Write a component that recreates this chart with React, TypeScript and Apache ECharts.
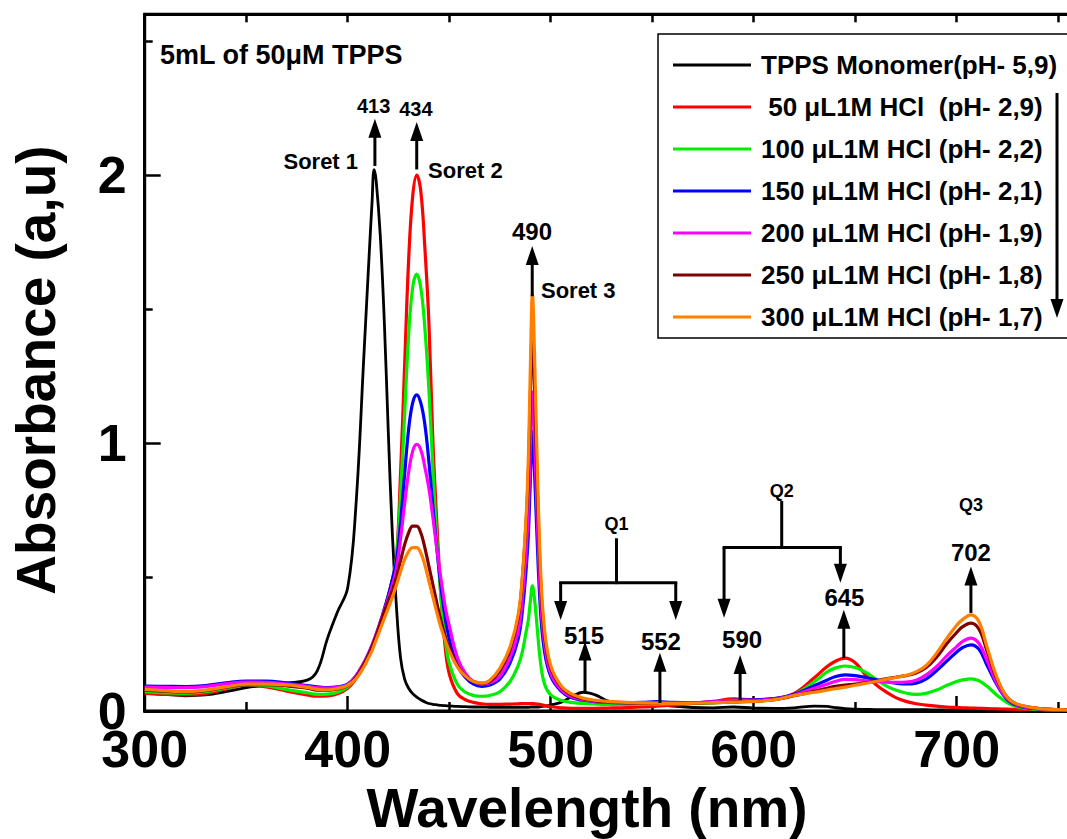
import React, { useEffect, useRef } from 'react';
import * as echarts from 'echarts';

const FONT = '"Liberation Sans", Arial, Helvetica, sans-serif';

// Wavelength grid (nm)
const W = [
  300, 310, 320, 330, 340, 350, 360, 370, 380, 385, 390, 395, 400,
  404, 408, 410, 412, 413, 414, 416, 418, 420,
  422, 424, 426, 428, 430, 432, 434, 436, 438, 440,
  442, 444, 446, 448, 450, 454, 458, 462, 466, 470,
  475, 480, 484, 486, 488, 489, 490, 491, 492, 493,
  495, 497, 500, 505, 510, 516, 522, 528, 535, 545,
  552, 560, 570, 580, 590, 600, 610, 620, 630, 636,
  640, 645, 650, 655, 660, 665, 670, 675, 680, 685,
  690, 695, 700, 703, 707, 711, 715, 720, 725, 730,
  740, 750, 770, 800,
];

const monomer = [
  0.068, 0.062, 0.057, 0.06, 0.072, 0.087, 0.096, 0.105, 0.115, 0.15, 0.27, 0.37, 0.46,
  0.76, 1.33, 1.62, 1.9, 2.02, 1.98, 1.78, 1.46, 1.04,
  0.66, 0.39, 0.2, 0.12, 0.085, 0.065, 0.052, 0.042, 0.034, 0.028,
  0.025, 0.023, 0.021, 0.02, 0.019, 0.017, 0.016, 0.015, 0.015, 0.014,
  0.014, 0.014, 0.014, 0.014, 0.014, 0.014, 0.015, 0.015, 0.015, 0.015,
  0.016, 0.018, 0.022, 0.032, 0.052, 0.07, 0.06, 0.038, 0.024, 0.02,
  0.026, 0.018, 0.013, 0.012, 0.015, 0.011, 0.01, 0.012, 0.018, 0.017,
  0.013, 0.009, 0.007, 0.006, 0.005, 0.005, 0.005, 0.005, 0.005, 0.005,
  0.004, 0.004, 0.004, 0.004, 0.004, 0.004, 0.004, 0.004, 0.004, 0.004,
  0.004, 0.003, 0.003, 0.003,
];

const hcl50 = [
  0.066, 0.062, 0.06, 0.066, 0.082, 0.097, 0.09, 0.074, 0.06, 0.055, 0.056, 0.064, 0.085,
  0.12, 0.17, 0.2, 0.235, 0.255, 0.275, 0.32, 0.37, 0.43,
  0.49, 0.57, 0.88, 1.28, 1.68, 1.92, 2.0, 1.94, 1.73, 1.45,
  1.0, 0.69, 0.42, 0.24, 0.14, 0.065, 0.042, 0.032, 0.027, 0.025,
  0.025, 0.026, 0.027, 0.028, 0.028, 0.028, 0.028, 0.028, 0.027, 0.026,
  0.024, 0.02, 0.016, 0.012, 0.01, 0.01, 0.01, 0.011, 0.012, 0.015,
  0.018, 0.022, 0.028, 0.036, 0.045, 0.042, 0.046, 0.066, 0.125, 0.165,
  0.185, 0.197, 0.18, 0.135, 0.1, 0.072, 0.05, 0.036, 0.027, 0.022,
  0.018, 0.015, 0.013, 0.012, 0.011, 0.01, 0.009, 0.008, 0.007, 0.006,
  0.005, 0.004, 0.003, 0.003,
];

const hcl100 = [
  0.072, 0.068, 0.066, 0.072, 0.085, 0.098, 0.094, 0.08, 0.068, 0.062, 0.063, 0.07, 0.09,
  0.125, 0.175, 0.205, 0.24, 0.26, 0.28, 0.325, 0.375, 0.43,
  0.49, 0.57, 0.8, 1.1, 1.4, 1.58, 1.63, 1.58, 1.43, 1.2,
  0.9, 0.63, 0.42, 0.27, 0.18, 0.1, 0.07, 0.058, 0.055, 0.058,
  0.072, 0.11, 0.17, 0.22, 0.3, 0.34, 0.41, 0.467, 0.42, 0.34,
  0.18, 0.1, 0.06, 0.04, 0.032, 0.028, 0.026, 0.025, 0.025, 0.025,
  0.026, 0.027, 0.028, 0.03, 0.034, 0.036, 0.042, 0.062, 0.11, 0.145,
  0.16, 0.168, 0.162, 0.145, 0.12, 0.095, 0.078, 0.067, 0.062, 0.066,
  0.078, 0.095, 0.11, 0.116, 0.12, 0.113, 0.092, 0.058, 0.03, 0.015,
  0.006, 0.004, 0.003, 0.002,
];

const hcl150 = [
  0.093, 0.092, 0.091, 0.095, 0.105, 0.112, 0.112, 0.104, 0.095, 0.09, 0.087, 0.09, 0.1,
  0.13, 0.18, 0.21, 0.245, 0.265, 0.285, 0.33, 0.38, 0.43,
  0.49, 0.56, 0.7, 0.88, 1.05, 1.15, 1.18, 1.15, 1.07, 0.93,
  0.76, 0.6, 0.46, 0.35, 0.27, 0.17, 0.125, 0.1, 0.092, 0.097,
  0.12, 0.18, 0.27, 0.37, 0.54, 0.66, 0.87, 1.045, 0.9, 0.7,
  0.37, 0.22, 0.13, 0.075, 0.05, 0.04, 0.035, 0.032, 0.031, 0.032,
  0.035, 0.032, 0.031, 0.034, 0.04, 0.042, 0.046, 0.062, 0.095, 0.115,
  0.128, 0.135, 0.132, 0.125, 0.117, 0.11, 0.104, 0.101, 0.104, 0.12,
  0.15, 0.185, 0.22, 0.237, 0.247, 0.23, 0.17, 0.095, 0.042, 0.02,
  0.008, 0.005, 0.003, 0.002,
];

const hcl200 = [
  0.089, 0.088, 0.087, 0.091, 0.101, 0.108, 0.107, 0.1, 0.092, 0.087, 0.085, 0.088, 0.098,
  0.13, 0.18, 0.21, 0.245, 0.265, 0.285, 0.33, 0.375, 0.42,
  0.47, 0.53, 0.64, 0.77, 0.89, 0.97, 0.995, 0.975, 0.91, 0.83,
  0.72, 0.6, 0.49, 0.39, 0.32, 0.2, 0.14, 0.11, 0.1, 0.105,
  0.13, 0.2, 0.3, 0.42, 0.61, 0.75, 1.0, 1.19, 1.03, 0.8,
  0.42, 0.25, 0.14, 0.08, 0.054, 0.042, 0.036, 0.033, 0.031, 0.03,
  0.03, 0.03, 0.031, 0.034, 0.04, 0.04, 0.044, 0.06, 0.085, 0.1,
  0.11, 0.118, 0.117, 0.113, 0.11, 0.108, 0.107, 0.108, 0.115, 0.135,
  0.165, 0.205, 0.24, 0.26, 0.272, 0.252, 0.187, 0.1, 0.045, 0.022,
  0.009, 0.005, 0.003, 0.002,
];

const hcl250 = [
  0.078, 0.074, 0.07, 0.076, 0.088, 0.098, 0.098, 0.094, 0.085, 0.078, 0.077, 0.082, 0.095,
  0.125, 0.175, 0.205, 0.24, 0.26, 0.28, 0.325, 0.37, 0.41,
  0.45, 0.5, 0.56, 0.62, 0.665, 0.69, 0.69, 0.665, 0.61, 0.54,
  0.47, 0.4, 0.335, 0.28, 0.235, 0.17, 0.13, 0.11, 0.103, 0.11,
  0.15, 0.23, 0.35, 0.49, 0.72, 0.89, 1.18, 1.42, 1.22, 0.94,
  0.49, 0.28, 0.16, 0.09, 0.06, 0.045, 0.038, 0.034, 0.031, 0.029,
  0.028, 0.028, 0.029, 0.031, 0.034, 0.037, 0.042, 0.057, 0.074, 0.085,
  0.092, 0.097, 0.1, 0.105, 0.112, 0.12, 0.126, 0.132, 0.142, 0.162,
  0.2, 0.25, 0.293, 0.315, 0.328, 0.305, 0.222, 0.115, 0.05, 0.024,
  0.01, 0.005, 0.003, 0.002,
];

const hcl300 = [
  0.081, 0.076, 0.072, 0.078, 0.09, 0.1, 0.1, 0.097, 0.088, 0.081, 0.079, 0.084, 0.096,
  0.12, 0.165, 0.195, 0.225, 0.245, 0.265, 0.305, 0.345, 0.385,
  0.425, 0.47, 0.52, 0.565, 0.595, 0.61, 0.61, 0.59, 0.545, 0.485,
  0.425, 0.365, 0.31, 0.265, 0.225, 0.165, 0.13, 0.11, 0.104, 0.115,
  0.16, 0.24, 0.36, 0.5, 0.74, 0.95, 1.29, 1.556, 1.34, 1.03,
  0.53, 0.3, 0.17, 0.095, 0.065, 0.048, 0.04, 0.036, 0.033, 0.03,
  0.029, 0.028, 0.029, 0.031, 0.033, 0.036, 0.042, 0.058, 0.07, 0.078,
  0.083, 0.089, 0.096, 0.103, 0.11, 0.118, 0.125, 0.133, 0.146, 0.17,
  0.215, 0.27, 0.32, 0.342, 0.359, 0.333, 0.237, 0.122, 0.05, 0.025,
  0.01, 0.005, 0.003, 0.002,
];

const SERIES_NAMES = [
  'TPPS Monomer(pH- 5,9)',
  ' 50 μL1M HCl  (pH- 2,9)',
  '100 μL1M HCl (pH- 2,2)',
  '150 μL1M HCl (pH- 2,1)',
  '200 μL1M HCl (pH- 1,9)',
  '250 μL1M HCl (pH- 1,8)',
  '300 μL1M HCl (pH- 1,7)',
];
const SERIES_VALUES = [monomer, hcl50, hcl100, hcl150, hcl200, hcl250, hcl300];
const SERIES_COLORS = ['#000000', '#ff0000', '#00ee00', '#0000ff', '#ff00ff', '#800000', '#ff8000'];

// Annotations in data coordinates (nm, absorbance)
const ANNO_TEXTS: [string, number, number, string, number][] = [
  ['5mL of 50μM TPPS', 307.5, 2.449, 'left', 27],
  ['413', 412.8, 2.259, 'center', 20],
  ['434', 433.6, 2.248, 'center', 20],
  ['Soret 1', 405.1, 2.049, 'right', 22],
  ['Soret 2', 439.6, 2.016, 'left', 22],
  ['490', 490.8, 1.791, 'center', 24],
  ['Soret 3', 495.2, 1.57, 'left', 22],
  ['Q1', 532.4, 0.696, 'center', 18],
  ['515', 516.4, 0.28, 'center', 24],
  ['552', 554.3, 0.259, 'center', 24],
  ['590', 594.3, 0.266, 'center', 24],
  ['Q2', 613.8, 0.82, 'center', 18],
  ['645', 644.7, 0.423, 'center', 24],
  ['Q3', 707, 0.77, 'center', 18],
  ['702', 707, 0.591, 'center', 24],
];
const UP_ARROWS = [
  [413.4, 2.034, 2.21], [434, 2.021, 2.198], [490.9, 1.548, 1.735], [516.9, 0.072, 0.259],
  [553.8, 0.03, 0.217], [593.3, 0.041, 0.209], [644.4, 0.198, 0.378], [707, 0.366, 0.539],
];
const DOWN_ARROWS = [
  [504.9, 0.479, 0.34], [561.6, 0.479, 0.34], [585.4, 0.61, 0.348], [642.7, 0.61, 0.479],
];
const BRACKET_LINES = [
  [532.4, 0.639, 532.4, 0.479], [504.9, 0.479, 561.6, 0.479],
  [613.8, 0.778, 613.8, 0.61], [585.4, 0.61, 642.7, 0.61],
];

function arrowEls(x0: number, y0: number, x1: number, y1: number) {
  const dx = x1 - x0, dy = y1 - y0;
  const len = Math.sqrt(dx * dx + dy * dy) || 1;
  const ux = dx / len, uy = dy / len;
  const hl = 19, hw = 6.5;
  const bx = x1 - ux * hl, by = y1 - uy * hl;
  return [
    { type: 'line', shape: { x1: x0, y1: y0, x2: bx + ux * 2, y2: by + uy * 2 }, style: { stroke: '#000', lineWidth: 3 }, z: 100 },
    {
      type: 'polygon',
      shape: { points: [[x1, y1], [bx - uy * hw, by + ux * hw], [bx + uy * hw, by - ux * hw]] },
      style: { fill: '#000' }, z: 100,
    },
  ];
}

export default function App() {
  const ref = useRef<HTMLDivElement>(null);
  useEffect(() => {
    const chart = echarts.init(ref.current as HTMLDivElement, null, { renderer: 'svg' });
    const series = SERIES_NAMES.map((name, k) => ({
      name,
      type: 'line',
      data: W.map((w, i) => [w, SERIES_VALUES[k][i]]),
      symbol: 'none',
      showSymbol: false,
      smooth: 0.4,
      lineStyle: { color: SERIES_COLORS[k], width: k === 0 ? 2.8 : 3.2, join: 'round' },
      itemStyle: { color: SERIES_COLORS[k] },
      z: 2 + k,
    }));
    chart.setOption({
      animation: false,
      backgroundColor: '#fff',
      grid: { left: 144.7, top: 14.3, width: 1015, height: 696.7, show: true, borderColor: '#000', borderWidth: 3, containLabel: false },
      xAxis: [
        {
          type: 'value', min: 300, max: 800, interval: 100, position: 'bottom',
          axisLine: { show: true, onZero: false, lineStyle: { color: '#000', width: 3 } },
          axisTick: { show: true, inside: true, length: 15, lineStyle: { color: '#000', width: 2.5 } },
          minorTick: { show: true, splitNumber: 2, length: 9, lineStyle: { color: '#000', width: 2.5 } },
          splitLine: { show: false },
          axisLabel: {
            margin: 20, color: '#000', fontSize: 52, lineHeight: 36, fontWeight: 'bold', fontFamily: FONT,
            formatter: (v: number) => (v % 100 === 0 && v <= 700 ? String(v) : ''),
          },
        },
        {
          type: 'value', min: 300, max: 800, interval: 50, position: 'top',
          axisLine: { show: true, onZero: false, lineStyle: { color: '#000', width: 3 } },
          axisTick: { show: true, inside: true, length: 8, lineStyle: { color: '#000', width: 2.5 } },
          splitLine: { show: false },
          axisLabel: { show: false },
        },
      ],
      yAxis: {
        type: 'value', min: 0, max: 2.6, interval: 1,
        axisLine: { show: true, onZero: false, lineStyle: { color: '#000', width: 3 } },
        axisTick: { show: true, inside: true, length: 16, lineStyle: { color: '#000', width: 2.5 } },
        minorTick: { show: true, splitNumber: 2, length: 8, lineStyle: { color: '#000', width: 2.5 } },
        splitLine: { show: false },
        axisLabel: {
          margin: 18, color: '#000', fontSize: 52, lineHeight: 36, fontWeight: 'bold', fontFamily: FONT,
          padding: [0, 0, 4, 0],
          formatter: (v: number) => (Math.abs(v - Math.round(v)) < 1e-9 ? String(Math.round(v)) : ''),
        },
      },
      legend: {
        data: SERIES_NAMES,
        orient: 'vertical', left: 658, top: 34,
        padding: [10, 30, 0, 15], itemGap: 0,
        itemWidth: 78, itemHeight: 3, icon: 'rect',
        borderColor: '#000', borderWidth: 1.5, backgroundColor: '#fff',
        selectedMode: false,
        textStyle: { fontSize: 26, fontWeight: 'bold', fontFamily: FONT, color: '#000', lineHeight: 42, padding: [0, 0, 0, 5] },
      },
      series,
    });

    const px = (x: number, y: number) => chart.convertToPixel({ xAxisIndex: 0, yAxisIndex: 0 }, [x, y]) as number[];
    const els: any[] = [];
    ANNO_TEXTS.forEach(([t, x, y, align, size]) => {
      const p = px(x, y);
      els.push({
        type: 'text', x: p[0], y: p[1], z: 100,
        style: { text: t, fill: '#000', fontSize: size, fontWeight: 'bold', fontFamily: FONT, textAlign: align, textVerticalAlign: 'middle' },
      });
    });
    UP_ARROWS.concat(DOWN_ARROWS).forEach(([x, y0, y1]) => {
      const a = px(x, y0), b = px(x, y1);
      els.push(...arrowEls(a[0], a[1], b[0], b[1]));
    });
    BRACKET_LINES.forEach(([x0, y0, x1, y1]) => {
      const a = px(x0, y0), b = px(x1, y1);
      els.push({ type: 'line', shape: { x1: a[0], y1: a[1], x2: b[0], y2: b[1] }, style: { stroke: '#000', lineWidth: 3, lineCap: 'square' }, z: 100 });
    });
    // legend trend arrow
    els.push(...arrowEls(1057, 93, 1057, 318));
    // axis titles
    els.push({
      type: 'text', x: 36, y: 370, rotation: Math.PI / 2, z: 100,
      style: { text: 'Absorbance (a,u)', fill: '#000', fontSize: 55, fontWeight: 'bold', fontFamily: FONT, textAlign: 'center', textVerticalAlign: 'middle' },
    });
    els.push({
      type: 'text', x: 587, y: 808, z: 100,
      style: { text: 'Wavelength (nm)', fill: '#000', fontSize: 55, lineHeight: 56, fontWeight: 'bold', fontFamily: FONT, textAlign: 'center', textVerticalAlign: 'middle' },
    });
    chart.setOption({ graphic: els });
    return () => chart.dispose();
  }, []);
  return <div ref={ref} style={{ position: 'fixed', left: 0, top: 0, width: 1200, height: 839, background: '#fff' }} />;
}
